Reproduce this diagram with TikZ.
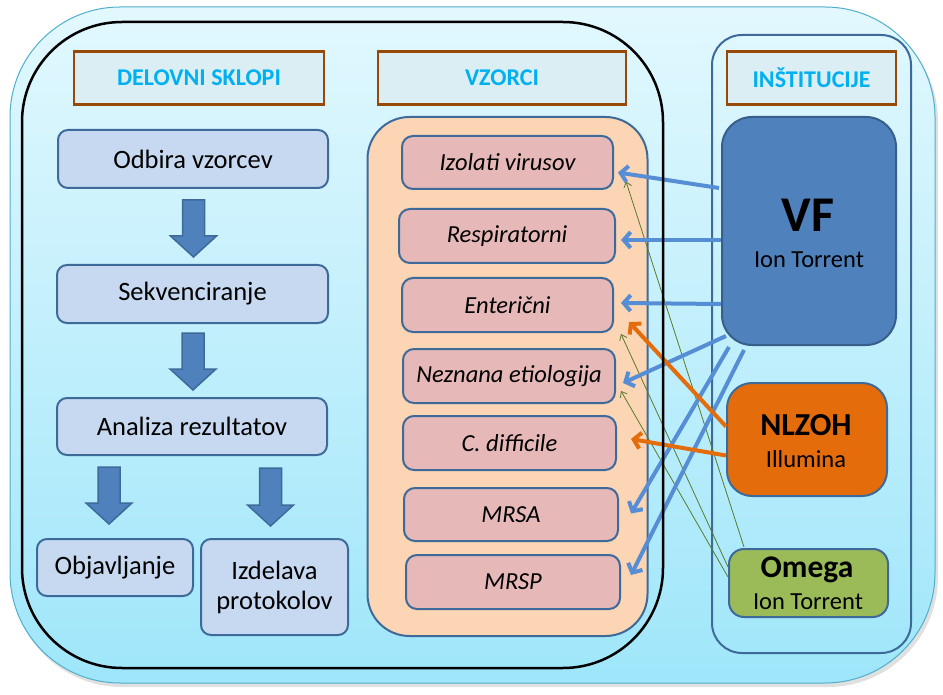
\documentclass[tikz,border=0pt]{standalone}
\usepackage{fontspec}
\setmainfont{Carlito}
\usetikzlibrary{arrows.meta, calc}

\definecolor{bgtop}{HTML}{E2F8FE}
\definecolor{bgbottom}{HTML}{9FE6FA}
\definecolor{bgline}{HTML}{4FAFCB}
\definecolor{headfill}{HTML}{DBEEF4}
\definecolor{headline}{HTML}{984807}
\definecolor{headtext}{HTML}{00B0F0}
\definecolor{boxline}{HTML}{3E6A9A}
\definecolor{stepfill}{HTML}{C6D9F1}
\definecolor{samplefill}{HTML}{E6B9B8}
\definecolor{samplebg}{HTML}{FCD5B5}
\definecolor{vfblue}{HTML}{4F81BD}
\definecolor{nlzohorange}{HTML}{E46C0A}
\definecolor{omegagreen}{HTML}{9BBB59}
\definecolor{linkblue}{HTML}{558ED5}
\definecolor{linkgreen}{HTML}{5B7A2E}

\tikzset{
  header/.style={draw=headline, line width=2.5pt, fill=headfill, text=headtext,
    font=\fontsize{24}{28}\selectfont\bfseries, minimum height=53pt, inner sep=0pt},
  stepbox/.style={draw=boxline, line width=2pt, fill=stepfill, rounded corners=10pt,
    font=\fontsize{26.5}{30}\selectfont, align=center, inner sep=0pt},
  sample/.style={draw=boxline, line width=2pt, fill=samplefill, rounded corners=11pt,
    font=\fontsize{24.5}{28}\selectfont\itshape, minimum height=54pt, inner sep=0pt},
  instbox/.style={draw=boxline, line width=2pt, inner sep=0pt},
  instname/.style={font=\fontsize{32}{32}\selectfont\bfseries, anchor=base, inner sep=0pt},
  instsub/.style={font=\fontsize{24.5}{28}\selectfont, anchor=base, inner sep=0pt},
  barrow/.style={draw=boxline, line width=1.5pt, fill=vfblue, line join=miter},
  bluelink/.style={draw=linkblue, line width=4pt, -{Straight Barb[length=7pt,width=16pt]}},
  orangelink/.style={draw=nlzohorange, line width=4pt, -{Straight Barb[length=7pt,width=16pt]}},
  greenlink/.style={draw=linkgreen, line width=0.8pt, -{Straight Barb[length=5pt,width=8pt]}}
}

% block arrow from a top point to a tip point
\newcommand{\blockarrow}[2]{%
  \draw[barrow] let \p1=(#1), \p2=(#2) in
    (\x2-11pt,\y1) -- (\x2+11pt,\y1) -- (\x2+11pt,\y2+21pt) -- (\x2+23pt,\y2+21pt)
    -- (\x2,\y2) -- (\x2-23pt,\y2+21pt) -- (\x2-11pt,\y2+21pt) -- cycle;}

\begin{document}
\begin{tikzpicture}[x=1pt, y=-1pt]
  \useasboundingbox (0,0) rectangle (943,695);

  % background panel
  \fill[black!12, rounded corners=110pt] (12,11) rectangle (938,687);
  \shadedraw[top color=bgtop, bottom color=bgbottom, draw=bgline, line width=1pt,
    rounded corners=110pt] (10,7) rectangle (935,683);

  % column frames
  \node[instbox, fill=samplebg, rounded corners=42pt, minimum width=280pt,
    minimum height=519pt] (vzorciframe) at (507.5,376.5) {};
  \node[instbox, rounded corners=30pt, minimum width=199pt,
    minimum height=618pt] (instframe) at (811.5,344) {};

  % headers
  \node[header, minimum width=250pt] (hdelovni) at (199,78) {DELOVNI SKLOPI};
  \node[header, minimum width=248pt] (hvzorci) at (502,78) {VZORCI};
  \node[header, minimum width=169pt] (hinst) at (811.5,78) {INŠTITUCIJE};

  % work packages
  \node[stepbox, minimum width=270pt, minimum height=58pt] (odbira) at (193,159) {Odbira vzorcev};
  \node[stepbox, minimum width=271pt, minimum height=58pt] (sekv) at (192.5,294) {Sekvenciranje};
  \node[stepbox, minimum width=270pt, minimum height=57pt] (analiza) at (192,426.5) {Analiza rezultatov};
  \node[stepbox, minimum width=156pt, minimum height=57pt] (objav) at (115,567.5) {Objavljanje};
  \node[stepbox, minimum width=147pt, minimum height=96pt] (izdelava) at (274.5,587) {Izdelava\\protokolov};

  \blockarrow{$(odbira.south)+(1,11)$}{$(sekv.north)+(1,-7)$}
  \blockarrow{$(sekv.south)+(1,9)$}{$(analiza.north)+(1,-7)$}
  \blockarrow{$(analiza.south)+(0,11)$}{$(objav.north)+(-6,-14)$}
  \blockarrow{$(analiza.south)+(0,12)$}{$(izdelava.north)+(-4,-12)$}

  % samples
  \node[sample, minimum width=211pt, minimum height=53pt] (izolati) at (507.5,162.5) {Izolati virusov};
  \node[sample, minimum width=216pt] (resp) at (507,236) {Respiratorni};
  \node[sample, minimum width=211pt] (enter) at (507.5,305) {Enterični};
  \node[sample, minimum width=212pt] (nezn) at (509,376) {Neznana etiologija};
  \node[sample, minimum width=213pt] (cdiff) at (509.5,443) {C. difficile};
  \node[sample, minimum width=214pt, minimum height=53pt] (mrsa) at (511,514.5) {MRSA};
  \node[sample, minimum width=214pt] (mrsp) at (513,582) {MRSP};

  % institutions
  \node[instbox, draw=boxline!90!black, fill=vfblue, rounded corners=30pt,
    minimum width=174pt, minimum height=228pt] (vf) at (809,231) {};
  \node[instname, font=\fontsize{50}{50}\selectfont\bfseries] (vfname) at (808,232) {VF};
  \node[instsub] (vfsub) at (809,268) {Ion Torrent};

  \node[instbox, fill=nlzohorange, rounded corners=25pt,
    minimum width=160pt, minimum height=113pt] (nlzoh) at (807,439.5) {};
  \node[instname] (nlzohname) at (806,435) {NLZOH};
  \node[instsub] (nlzohsub) at (806,467) {Illumina};

  \node[instbox, fill=omegagreen, rounded corners=15pt,
    minimum width=159pt, minimum height=68pt] (omega) at (808.5,583) {};
  \node[instname, font=\fontsize{31.5}{31.5}\selectfont\bfseries] (omeganame) at (807,577) {Omega};
  \node[instsub] (omegasub) at (808,609) {Ion Torrent};

  % links from institutions to samples
  \draw[greenlink] ($(omega.north west)+(16,-1)$) -- ($(izolati.east)+(12,19)$);
  \draw[greenlink] ($(omega.west)+(0,-16)$) -- ($(enter.east)+(7,29)$);
  \draw[greenlink] ($(omega.west)+(0,-6)$) -- ($(nezn.east)+(5,15)$);

  \draw[bluelink] ($(vf.west)+(-2,-43)$) -- ($(izolati.east)+(4,10)$);
  \draw[bluelink] ($(vf.west)+(0,9)$) -- ($(resp.east)+(5,4)$);
  \draw[bluelink] ($(vf.west)+(0,73)$) -- ($(enter.east)+(7,-2)$);
  \draw[bluelink] ($(vf.south west)+(5,-10)$) -- ($(nezn.east)+(7,7)$);
  \draw[bluelink] ($(vf.south west)+(8,1)$) -- ($(mrsa.east)+(12,-1)$);
  \draw[bluelink] ($(vf.south west)+(23,4)$) -- ($(mrsp.east)+(10,-7)$);

  \draw[orangelink] ($(nlzoh.west)+(0,-13)$) -- ($(enter.east)+(15,17)$);
  \draw[orangelink] ($(nlzoh.west)+(0,16)$) -- ($(cdiff.east)+(14,-4)$);

  % outer frame of work packages and samples
  \draw[line width=2.5pt, rounded corners=100pt] (22,22) rectangle (663,668);
\end{tikzpicture}
\end{document}
